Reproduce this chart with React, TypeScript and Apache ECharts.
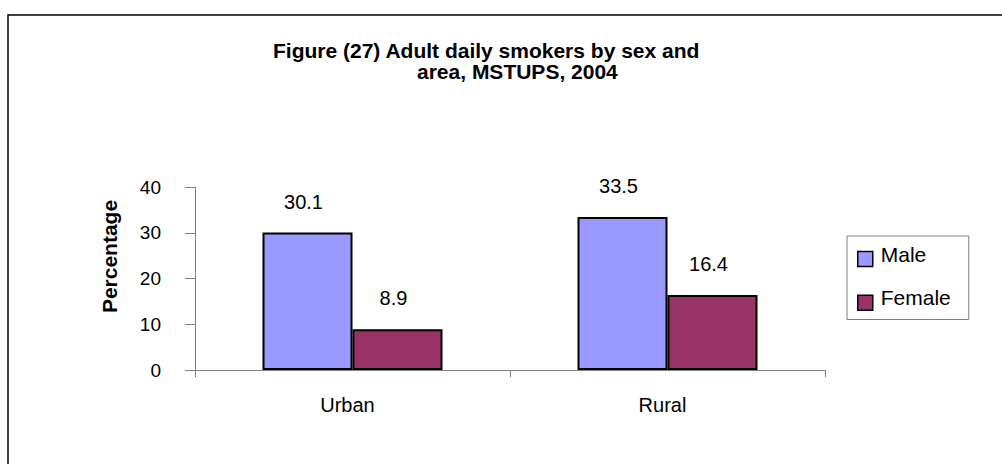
import React, { useEffect, useRef } from "react";
import * as echarts from "echarts";

const categories = ["Urban", "Rural"];
const seriesNames = ["Male", "Female"];
const maleValues = [30.1, 33.5];
const femaleValues = [8.9, 16.4];
const yMin = 0;
const yMax = 40;
const yInterval = 10;
const titleLines = ["Figure (27) Adult daily smokers by sex and", "area, MSTUPS, 2004"];
const yAxisName = "Percentage";

const FONT = "'Liberation Sans', Arial, sans-serif";
const MALE_COLOR = "#9999FF";
const FEMALE_COLOR = "#993366";

export default function App() {
  const ref = useRef<HTMLDivElement>(null);
  useEffect(() => {
    document.body.style.margin = "0";
    if (!ref.current) return;
    const chart = echarts.init(ref.current, null, { renderer: "svg" });
    const labelCfg = {
      show: true,
      position: "top",
      distance: 21,
      offset: [-4, 0],
      color: "#000",
      fontSize: 20,
      fontFamily: FONT,
    };
    chart.setOption({
      animation: false,
      backgroundColor: "#fff",
      textStyle: { fontFamily: FONT },
      graphic: [
        {
          type: "rect",
          shape: { x: 8, y: 15, width: 1200, height: 700 },
          style: { fill: "none", stroke: "#000", lineWidth: 1.5 },
          silent: true,
          z: -1,
        },
        {
          type: "text",
          x: 273,
          y: 50,
          style: {
            text: titleLines[0],
            fill: "#000",
            font: `bold 21px ${FONT}`,
            align: "left",
            verticalAlign: "middle",
          },
        },
        {
          type: "text",
          x: 417,
          y: 71.5,
          style: {
            text: titleLines[1],
            fill: "#000",
            font: `bold 21px ${FONT}`,
            align: "left",
            verticalAlign: "middle",
          },
        },
        {
          type: "text",
          x: 109,
          y: 256.5,
          rotation: Math.PI / 2,
          style: {
            text: yAxisName,
            fill: "#000",
            font: `bold 21px ${FONT}`,
            align: "center",
            verticalAlign: "middle",
          },
        },
      ],
      grid: { left: 195, right: 177, top: 187.3, bottom: 94, containLabel: false },
      legend: {
        orient: "vertical",
        left: 847,
        top: 236,
        data: seriesNames,
        icon: "rect",
        itemWidth: 15,
        itemHeight: 15,
        itemGap: 20,
        padding: [7.5, 18, 8.5, 10],
        borderColor: "#808080",
        borderWidth: 1,
        itemStyle: { borderColor: "#000", borderWidth: 1.5 },
        formatter: (name: string) => `{t|${name}}`,
        textStyle: {
          color: "#000",
          fontSize: 21,
          fontFamily: FONT,
          rich: { t: { color: "#000", fontSize: 21, fontFamily: FONT, padding: [0, 0, 10, 3] } },
        },
      },
      xAxis: {
        type: "category",
        data: categories,
        boundaryGap: true,
        axisLine: { show: true, lineStyle: { color: "#808080", width: 1 } },
        axisTick: { show: true, length: 7, lineStyle: { color: "#808080" } },
        axisLabel: { color: "#000", fontSize: 20, fontFamily: FONT, margin: 25, padding: [0, 10, 0, 0] },
        splitLine: { show: false },
      },
      yAxis: {
        type: "value",
        min: yMin,
        max: yMax,
        interval: yInterval,
        axisLine: { show: true, lineStyle: { color: "#808080", width: 1 } },
        axisTick: { show: true, length: 10, lineStyle: { color: "#808080" } },
        axisLabel: { color: "#000", fontSize: 19, fontFamily: FONT, margin: 34 },
        splitLine: { show: false },
      },
      series: [
        {
          name: seriesNames[0],
          type: "bar",
          data: maleValues,
          barWidth: 90,
          barGap: "0%",
          itemStyle: { color: MALE_COLOR, borderColor: "#000", borderWidth: 2 },
          label: labelCfg,
        },
        {
          name: seriesNames[1],
          type: "bar",
          data: femaleValues,
          barWidth: 90,
          barGap: "0%",
          itemStyle: { color: FEMALE_COLOR, borderColor: "#000", borderWidth: 2 },
          label: labelCfg,
        },
      ],
    });
    return () => chart.dispose();
  }, []);
  return <div ref={ref} style={{ width: 1002, height: 464 }} />;
}
